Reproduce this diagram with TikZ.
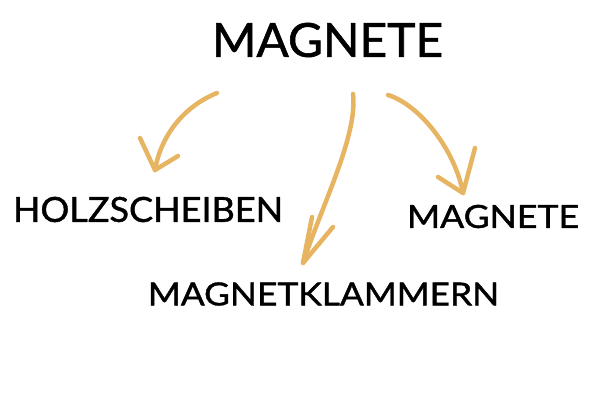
\documentclass[tikz,border=0pt]{standalone}
\usepackage{fontspec}
\setmainfont{Lato}[FakeBold=1.2]
\usepackage{graphicx}
\definecolor{tan}{HTML}{E7B462}
\tikzset{
  lbl/.style={inner sep=0pt, outer sep=0pt, anchor=center, text=black},
  arr/.style={draw=tan, line width=4.5pt, line cap=round, line join=round}
}
\begin{document}
\begin{tikzpicture}[x=1pt,y=-1pt]
\useasboundingbox (0,0) rectangle (615,400);
\node[lbl] (top) at (327.5,40) {\resizebox{231pt}{34pt}{MAGNETE}};
\node[lbl] (holz) at (148,209.5) {\resizebox{270pt}{25pt}{HOLZSCHEIBEN}};
\node[lbl] (mag) at (493,216.5) {\resizebox{172pt}{23pt}{MAGNETE}};
\node[lbl] (klam) at (323.5,294) {\resizebox{351pt}{23pt}{MAGNETKLAMMERN}};
% arrow end points
\coordinate (s1) at (217,93);
\coordinate (e1) at (155,170);
\coordinate (a1) at (140,138);
\coordinate (b1) at (178,156);
\coordinate (s2) at (353,94);
\coordinate (e2) at (303,263);
\coordinate (a2) at (312,217);
\coordinate (b2) at (333,227);
\coordinate (s3) at (388,95);
\coordinate (e3) at (463,193);
\coordinate (a3) at (438,177);
\coordinate (b3) at (475,148);
\draw[arr] (s1) .. controls (180,108) and (160,140) .. (e1);
\draw[arr] (a1) -- (e1) -- (b1);
\draw[arr] (s2) .. controls (358,135) and (322,205) .. (e2);
\draw[arr] (a2) -- (e2) -- (b2);
\draw[arr] (s3) .. controls (420,105) and (455,150) .. (e3);
\draw[arr] (a3) -- (e3) -- (b3);
\end{tikzpicture}
\end{document}
